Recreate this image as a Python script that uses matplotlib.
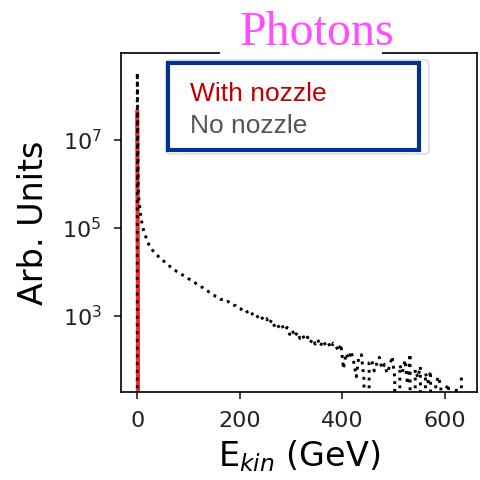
import matplotlib
matplotlib.use("Agg")
import matplotlib.pyplot as plt
from matplotlib.patches import Rectangle, FancyBboxPatch
import numpy as np

# --- data ---
# fine points right at E ~ 0 (first one is an empty bin)
e_low = [0.0, 0.3, 0.6, 1.0, 1.5, 2.0]
n_low = [0, 3.4e8, 1.2e8, 2.5e7, 4.0e6, 9.0e5]

# 5 GeV bins, centres 2.5 ... 632.5, log10(counts); 0 marks an empty bin
e_bins = np.arange(2.5, 635, 5)
log_no_nozzle = [
    5.75, 5.22, 4.95, 4.78, 4.63, 4.53, 4.46, 4.40, 4.34, 4.29,
    4.24, 4.19, 4.14, 4.09, 4.05, 4.01, 3.98, 3.94, 3.91, 3.87,
    3.83, 3.80, 3.76, 3.71, 3.67, 3.65, 3.60, 3.57, 3.52, 3.49,
    3.45, 3.43, 3.38, 3.37, 3.32, 3.33, 3.27, 3.25, 3.23, 3.17,
    3.16, 3.11, 3.13, 3.04, 3.08, 3.00, 3.03, 2.93, 2.98, 2.89,
    2.94, 2.82, 2.91, 2.78, 2.84, 2.72, 2.79, 2.67, 2.74, 2.58,
    2.68, 2.53, 2.63, 2.49, 2.57, 2.45, 2.52, 2.39, 2.48, 2.36,
    2.46, 2.31, 2.44, 2.34, 2.40, 2.27, 2.38, 2.33, 2.20, 2.36,
    1.80, 2.15, 2.02, 2.20, 1.95, 1.62, 2.08, 2.12, 1.55, 0,
    1.95, 2.00, 1.75, 1.92, 2.06, 1.80, 1.90, 1.70, 1.85, 2.08,
    1.60, 0, 1.88, 1.72, 2.00, 1.45, 2.14, 0, 1.78, 1.60,
    1.85, 0, 1.70, 1.50, 1.75, 0, 1.45, 1.62, 1.40, 0,
    1.35, 1.45, 0, 0, 1.35, 0, 1.68,
]

e_nozzle = [0.2, 0.6, 1.0, 1.6, 2.5]
n_nozzle = [4.3e7, 3.0e6, 1.0e5, 2.0e3, 0]

n_no_nozzle = [10 ** v if v > 0 else 0 for v in log_no_nozzle]
x_black = list(e_low) + list(e_bins)
y_black = list(n_low) + n_no_nozzle

W, H = 481, 480
fig = plt.figure(figsize=(W / 100, H / 100), dpi=100)
ax = fig.add_axes([121 / W, 1 - 391.7 / H, (477 - 121) / W, (391.7 - 53) / H])

ax.plot(e_nozzle, n_nozzle, color="#ff2a35", lw=3.0, zorder=2)
ax.plot(x_black, y_black, color="black", ls=":", lw=2.1, zorder=3)

ax.set_yscale("log")
ax.set_ylim(19, 9.5e8)
ax.set_xlim(-31.5, 663)
ax.set_yticks([1e3, 1e5, 1e7])
ax.yaxis.set_minor_locator(matplotlib.ticker.NullLocator())
ax.set_xticks([0, 200, 400, 600])

for s in ax.spines.values():
    s.set_linewidth(1.2)
ax.tick_params(axis="both", which="major", labelsize=16, length=5, width=1.2,
               pad=9, colors="#222222")

ax.set_ylabel("Arb. Units", fontsize=24, labelpad=9)
ax.set_xlabel("E$_{kin}$ (GeV)", fontsize=24, labelpad=5)


def px_rect(x0, y0, x1, y1, **kw):
    # rectangle given in picture pixels (top-left origin)
    r = Rectangle((x0 / W, 1 - y1 / H), (x1 - x0) / W, (y1 - y0) / H,
                  transform=fig.transFigure, **kw)
    fig.add_artist(r)
    return r


# white patch behind the title, hiding part of the top spine
px_rect(220, 0, 382, 55, facecolor="white", edgecolor="none", zorder=5)
fig.text(240 / W, 1 - 45 / H, "Photons", family="Liberation Serif",
         fontsize=34.5, color="#ff4dff", ha="left", va="baseline", zorder=6)

# legend box with a faint shadow frame
shadow = FancyBboxPatch((166 / W, 1 - 154 / H), (429 - 166) / W, (154 - 60) / H,
                        boxstyle="round,pad=0,rounding_size=0.01",
                        transform=fig.transFigure, facecolor="white",
                        edgecolor="#e3e3e3", linewidth=1.5, zorder=5)
fig.add_artist(shadow)
px_rect(168, 63, 419, 150, facecolor="white", edgecolor="#00338d",
        linewidth=3, zorder=6)
fig.text(190 / W, 1 - 101 / H, "With nozzle", family="Liberation Sans",
         fontsize=19, color="#c00000", ha="left", va="baseline", zorder=7)
fig.text(190 / W, 1 - 133 / H, "No nozzle", family="Liberation Sans",
         fontsize=19, color="#555555", ha="left", va="baseline", zorder=7)

fig.savefig("out.png", dpi=100)
